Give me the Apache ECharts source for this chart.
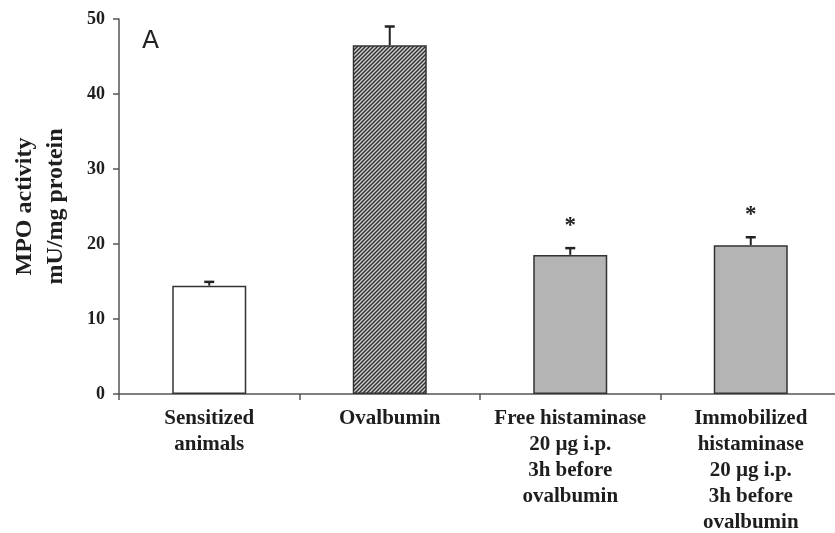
<!DOCTYPE html>
<html><head><meta charset="utf-8">
<script src="https://cdn.jsdelivr.net/npm/echarts@6/dist/echarts.min.js"></script>
<style>html,body{margin:0;padding:0;background:#fff;overflow:hidden}#c{width:841px;height:533px}</style>
</head><body><div id="c"></div>
<script>
const categories = ["Sensitized\nanimals", "Ovalbumin", "Free histaminase\n20 µg i.p.\n3h before\novalbumin", "Immobilized\nhistaminase\n20 µg i.p.\n3h before\novalbumin"];
const means = [14.45, 46.5, 18.55, 19.85];
const errors = [0.5, 2.5, 0.9, 1.05];
const significance = ["", "", "*", "*"];
const yTicks = [0, 10, 20, 30, 40, 50];

// hatch pattern
const pc = document.createElement('canvas');
pc.width = 4; pc.height = 4;
const pctx = pc.getContext('2d');
pctx.fillStyle = '#d0d0d0'; pctx.fillRect(0,0,4,4);
pctx.strokeStyle = '#333'; pctx.lineWidth = 1.5;
pctx.beginPath();
pctx.moveTo(0,4); pctx.lineTo(4,0);
pctx.moveTo(-1,1); pctx.lineTo(1,-1);
pctx.moveTo(3,5); pctx.lineTo(5,3);
pctx.stroke();

const fills = ['#ffffff', {image: pc, repeat: 'repeat'}, '#b4b4b4', '#b4b4b4'];

const chart = echarts.init(document.getElementById('c'));
chart.setOption({
  animation: false,
  grid: {left: 119, right: 0, top: 19, bottom: 139, containLabel: false, outerBoundsMode: 'none'},
  xAxis: {
    type: 'category', data: categories,
    axisLine: {lineStyle: {color: '#555', width: 1.5}},
    axisTick: {show: true, length: 6, lineStyle: {color: '#555', width: 1.5}},
    axisLabel: {interval: 0, margin: 12, fontFamily: 'Liberation Serif', fontWeight: 'bold', fontSize: 21, lineHeight: 26, color: '#1e1e1e'}
  },
  yAxis: {
    type: 'value', min: 0, max: 50, interval: 10,
    axisLine: {show: true, lineStyle: {color: '#555', width: 1.5}},
    axisTick: {show: true, length: 6, lineStyle: {color: '#555', width: 1.5}},
    splitLine: {show: false},
    axisLabel: {margin: 14, fontFamily: 'Liberation Serif', fontWeight: 'bold', fontSize: 18, color: '#1e1e1e',
      formatter: v => yTicks.includes(v) ? String(v) : ''},
    name: 'MPO activity\nmU/mg protein', nameLocation: 'middle', nameGap: 48, nameRotate: 90,
    nameTextStyle: {fontFamily: 'Liberation Serif', fontWeight: 'bold', fontSize: 24, lineHeight: 31, color: '#1e1e1e'}
  },
  graphic: [{type: 'text', x: 142, y: 41, style: {text: 'A', font: '25px "DejaVu Sans"', fill: '#222', verticalAlign: 'middle'}}],
  series: [{
    type: 'bar', barWidth: '41%',
    data: means.map((v, i) => ({value: v, itemStyle: {color: fills[i]}})),
    itemStyle: {borderColor: '#333', borderWidth: 1.5}
  }, {
    type: 'custom',
    data: means.map((v, i) => [i, v, errors[i]]),
    renderItem: (params, api) => {
      const i = api.value(0), m = api.value(1), e = api.value(2);
      const base = api.coord([i, m]);
      const top = api.coord([i, m + e]);
      const children = [
        {type: 'line', shape: {x1: base[0], y1: base[1], x2: top[0], y2: top[1]}, style: {stroke: '#222', lineWidth: 2}},
        {type: 'line', shape: {x1: top[0] - 5, y1: top[1], x2: top[0] + 5, y2: top[1]}, style: {stroke: '#222', lineWidth: 2.5}}
      ];
      const s = significance[i];
      if (s) children.push({type: 'text', x: top[0], y: top[1] - 22, style: {text: s, font: 'bold 23px "Liberation Serif"', fill: '#222', align: 'center', verticalAlign: 'middle'}});
      return {type: 'group', children};
    },
    z: 5
  }]
});
</script></body></html>
